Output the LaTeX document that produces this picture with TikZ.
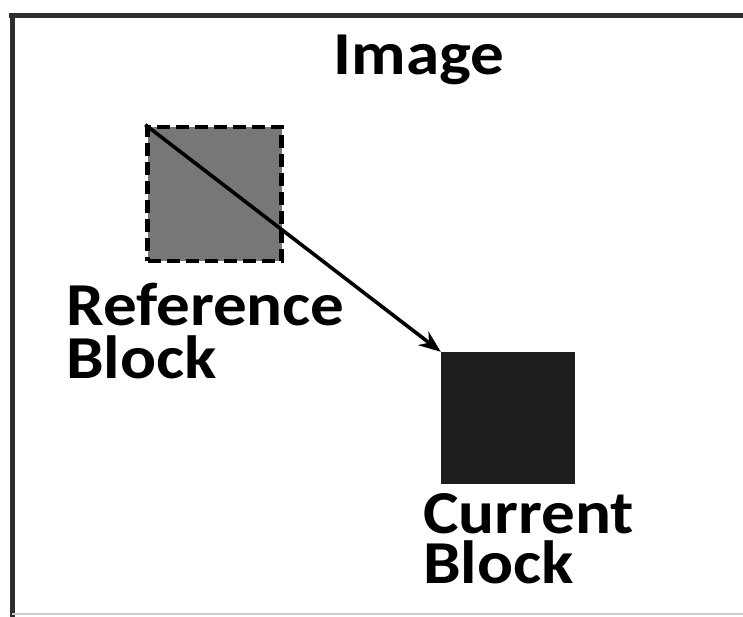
\documentclass[tikz,border=0pt]{standalone}
\usepackage{fontspec}
\setmainfont{Carlito}[FakeStretch=1.1]
\usetikzlibrary{arrows.meta}
\definecolor{refgray}{HTML}{777777}
\definecolor{curdark}{HTML}{1E1E1E}
\definecolor{framedark}{HTML}{2E2E2E}
\begin{document}
\begin{tikzpicture}[x=1pt,y=1pt,
  lbl/.style={inner sep=0pt, anchor=base west, font=\fontsize{61}{52}\selectfont\bfseries},
  refbox/.style={draw=black, fill=refgray, line width=4.5pt, dash pattern=on 13pt off 6pt, minimum width=134pt, minimum height=134pt, inner sep=0pt},
  curbox/.style={fill=curdark, minimum width=134pt, minimum height=132pt, inner sep=0pt},
  motion/.style={line width=3.6pt, -{Stealth[length=22pt,width=17pt]}}]
\useasboundingbox (0,0) rectangle (743,-617);
% frame
\draw[framedark, line width=5pt] (9,-16) -- (743,-16);
\draw[framedark, line width=5pt] (12,-16) -- (12,-617);
\draw[black!20, line width=1.5pt] (12,-614) -- (743,-614);
% title
\node[lbl, anchor=base] (title) at (419,-75) {Image};
% blocks
\node[refbox] (ref) at (214.5,-194) {};
\node[curbox] (cur) at (508,-418) {};
\draw[motion] (ref.north west) -- (cur.north west);
% labels
\node[lbl] (reflbl1) at (66,-325) {Reference};
\node[lbl] (reflbl2) at (66,-378) {Block};
\node[lbl] (curlbl1) at (423,-533) {Current};
\node[lbl] (curlbl2) at (423,-583) {Block};
\end{tikzpicture}
\end{document}
